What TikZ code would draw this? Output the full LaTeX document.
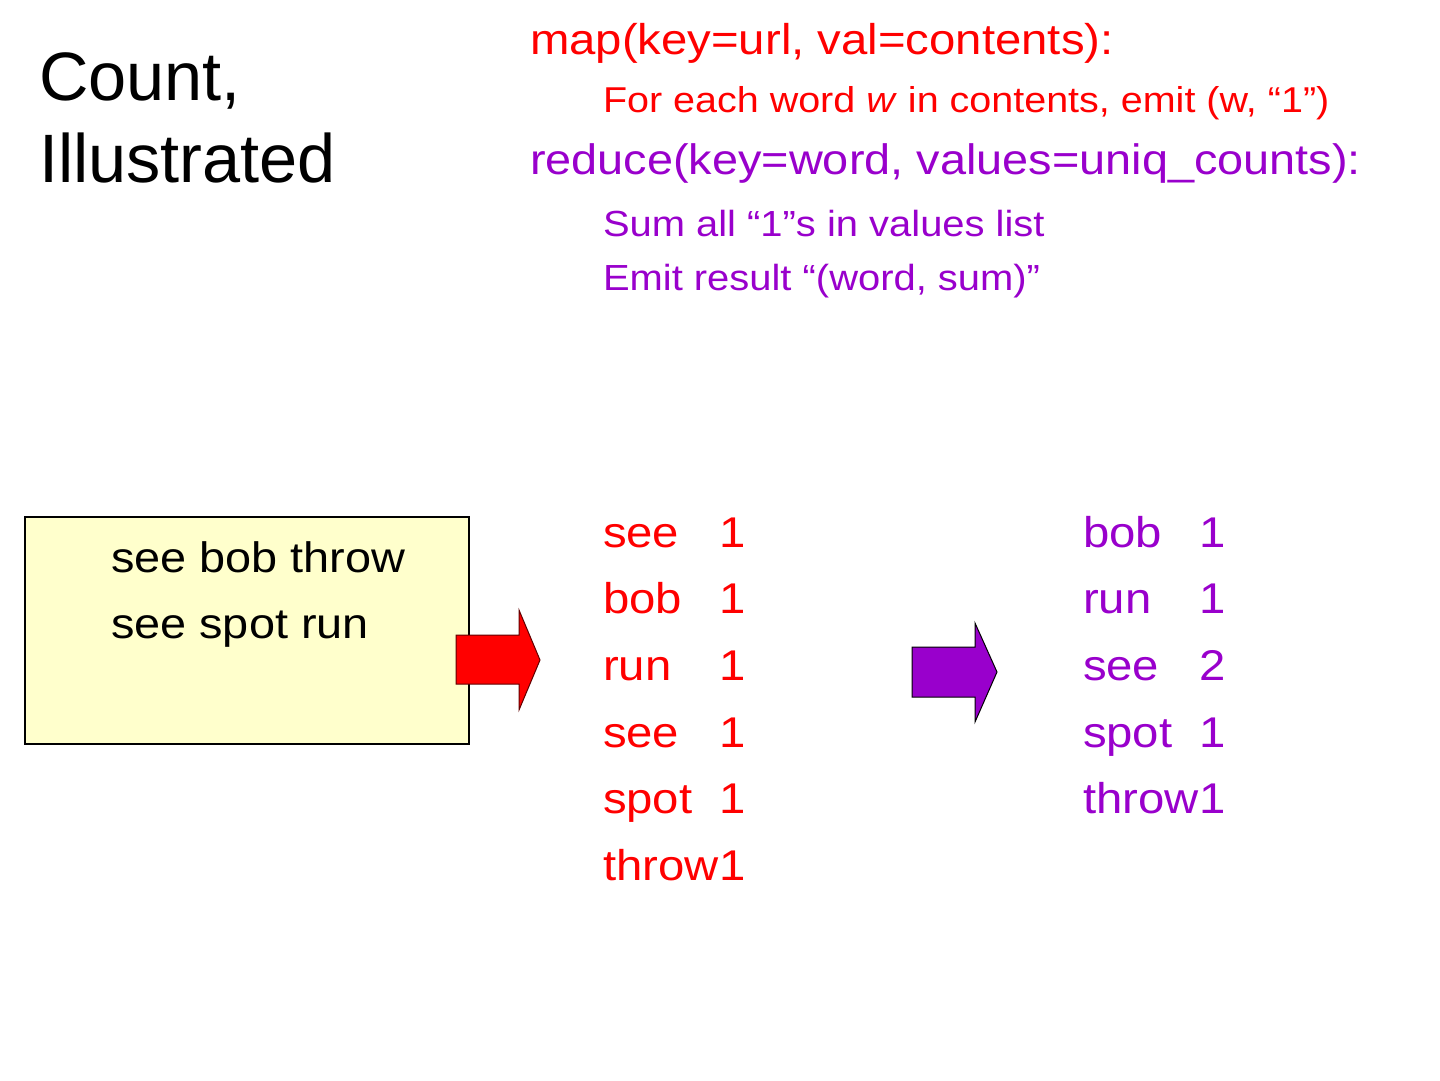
\documentclass[tikz,border=0pt]{standalone}
\usepackage{fontspec}
\setmainfont{Liberation Sans}
\newfontfamily\bodyfont[FakeStretch=1.1]{Liberation Sans}
\definecolor{myred}{HTML}{FF0000}
\definecolor{mypurple}{HTML}{9900CC}
\definecolor{boxyellow}{HTML}{FFFFCC}
\definecolor{arrowedge}{HTML}{600000}
\begin{document}
\begin{tikzpicture}[x=1pt,y=-1pt,
  txt/.style={anchor=base west, inner sep=0pt, outer sep=0pt},
  titletxt/.style={txt, font=\fontsize{68.5}{80}\selectfont},
  headtxt/.style={txt, font=\bodyfont\fontsize{43}{50}\selectfont},
  headtxtb/.style={txt, font=\bodyfont\fontsize{42.6}{50}\selectfont},
  subtxt/.style={txt, font=\bodyfont\fontsize{36.3}{44}\selectfont},
  subtxta/.style={txt, font=\bodyfont\fontsize{35.9}{44}\selectfont},
  itemtxt/.style={txt, font=\bodyfont\fontsize{43}{50}\selectfont},
  boxtxt/.style={txt, font=\bodyfont\fontsize{42.6}{50}\selectfont},
  inputbox/.style={draw=black, line width=2pt, fill=boxyellow, anchor=north west, inner sep=0pt},
  redarrow/.style={fill=myred, draw=arrowedge, line width=1pt, line join=miter},
  purplearrow/.style={fill=mypurple, draw=black, line width=1pt, line join=miter}]
\useasboundingbox (0,0) rectangle (1440,1080);
\fill[white] (0,0) rectangle (1440,1080);

% title
\node[titletxt] (t1) at (39,100) {Count,};
\node[titletxt] (t2) at (39,182) {Illustrated};

% header code
\node[headtxt, text=myred] (h1) at (530,54) {map(key=url, val=contents):};
\node[subtxta, text=myred] (h2) at (603,112) {For each word \textit{w} in contents, emit (w, “1”)};
\node[headtxtb, text=mypurple] (h3) at (530,174) {reduce(key=word, values=uniq\_counts):};
\node[subtxt, text=mypurple] (h4) at (603,236) {Sum all “1”s in values list};
\node[subtxt, text=mypurple] (h5) at (603,290) {Emit result “(word, sum)”};

% input box
\node[inputbox, minimum width=444pt, minimum height=227pt] (inbox) at (24,516) {};
\node[boxtxt] (in1) at (111,572) {see bob throw};
\node[boxtxt] (in2) at (111,638) {see spot run};

% arrows
\draw[redarrow] (456,635) -- (519,635) -- (519,610) -- (540,660) -- (519,710) -- (519,684) -- (456,684) -- cycle;
\draw[purplearrow] (912,647) -- (975,647) -- (975,623) -- (997,672) -- (975,722) -- (975,697) -- (912,697) -- cycle;

% map output
\foreach \w/\n/\yy [count=\i] in {see/1/547, bob/1/613, run/1/680, see/1/747, spot/1/813, throw/1/880}{
  \node[itemtxt, text=myred] (mw\i) at (603,\yy) {\w};
  \node[itemtxt, text=myred] (mn\i) at (719,\yy) {\n};
}

% reduce output
\foreach \w/\n/\yy [count=\i] in {bob/1/547, run/1/613, see/2/680, spot/1/747, throw/1/813}{
  \node[itemtxt, text=mypurple] (rw\i) at (1083,\yy) {\w};
  \node[itemtxt, text=mypurple] (rn\i) at (1199,\yy) {\n};
}
\end{tikzpicture}
\end{document}
